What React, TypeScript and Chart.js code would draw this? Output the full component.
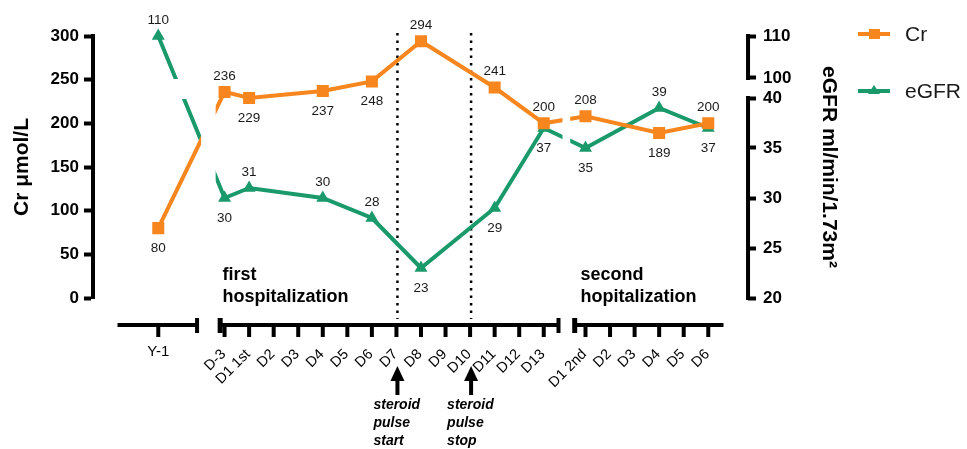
import React, { useEffect, useRef } from 'react';
import { Chart, registerables, LinearScale } from 'chart.js';

Chart.register(...registerables);

// ---------- data ----------
const yearCategories = ['Y-1'];
const firstCategories = ['D-3', 'D1 1st', 'D2', 'D3', 'D4', 'D5', 'D6', 'D7', 'D8', 'D9', 'D10', 'D11', 'D12', 'D13'];
const secondCategories = ['D1 2nd', 'D2', 'D3', 'D4', 'D5', 'D6'];

const crYear = [80];
const crFirst = [236, 229, null, null, 237, null, 248, null, 294, null, null, 241, null, 200];
const crSecond = [208, null, null, 189, null, 200];

const egfrYear = [110];
const egfrFirst = [30, 31, null, null, 30, null, 28, null, 23, null, null, 29, null, 37];
const egfrSecond = [35, null, null, 39, null, 37];

const crTicks = [0, 50, 100, 150, 200, 250, 300];
const egfrTicks = [20, 25, 30, 35, 40, 100, 110];

// label side for each plotted point, in order
const crLabelSide = ['below', 'above', 'below', 'below', 'below', 'above', 'above', 'above', 'above', 'below', 'above'];
const egfrLabelSide = ['above', 'below', 'above', 'above', 'above', 'below', 'below', 'below', 'below', 'above', 'below'];

const events = [
  { category: 'D7', lines: ['steroid', 'pulse', 'start'] },
  { category: 'D10', lines: ['steroid', 'pulse', 'stop'] },
];

// ---------- layout / style ----------
const FONT = 'Arial, "Liberation Sans", Helvetica, sans-serif';
const ORANGE = '#F7861E';
const GREEN = '#1A9A6B';
const SEGMENT_START = [-2.7, 0, 14.7];
const AXIS_SEGMENTS = [[-4.36, -1.12], [-0.2, 13.6], [14.24, 20.32]];
const LOW_SHARE = 200 / 262;
const GAP_SHARE = 20 / 262;

class BrokenLinearScale extends LinearScale {
  static id = 'brokenLinear';
  static defaults = LinearScale.defaults;
  buildTicks() {
    return egfrTicks.map((value) => ({ value }));
  }
  getPixelForValue(value: number) {
    const h = this.bottom - this.top;
    let f;
    if (value <= 40) f = ((value - 20) / 20) * LOW_SHARE;
    else if (value >= 100) f = LOW_SHARE + GAP_SHARE + ((value - 100) / 10) * (1 - LOW_SHARE - GAP_SHARE);
    else f = LOW_SHARE + ((value - 40) / 60) * GAP_SHARE;
    return this.bottom - f * h;
  }
  getValueForPixel(pixel: number) {
    const h = this.bottom - this.top;
    const f = (this.bottom - pixel) / h;
    if (f <= LOW_SHARE) return 20 + (f / LOW_SHARE) * 20;
    if (f >= LOW_SHARE + GAP_SHARE) return 100 + ((f - LOW_SHARE - GAP_SHARE) / (1 - LOW_SHARE - GAP_SHARE)) * 10;
    return 40 + ((f - LOW_SHARE) / GAP_SHARE) * 60;
  }
}
Chart.register(BrokenLinearScale as any);

const segments = [yearCategories, firstCategories, secondCategories];

function buildPoints(series: (number | null)[][]) {
  const pts: { x: number; y: number }[] = [];
  series.forEach((vals, s) =>
    vals.forEach((v, i) => {
      if (v !== null) pts.push({ x: SEGMENT_START[s] + i, y: v });
    })
  );
  return pts;
}

const breakClipPlugin = {
  id: 'breakClip',
  beforeDatasetDraw(chart: any, args: any) {
    const { ctx, width, height, scales } = chart;
    const x = scales.x;
    ctx.save();
    const bands: number[][] = [];
    for (let i = 0; i < AXIS_SEGMENTS.length - 1; i++) {
      const a = x.getPixelForValue(AXIS_SEGMENTS[i][1]) + 4;
      const b = x.getPixelForValue(AXIS_SEGMENTS[i + 1][0]) - 4;
      bands.push([a, 0, b - a, height]);
    }
    if (args.meta.yAxisID === 'y2') {
      const t = scales.y2.getPixelForValue(100);
      const b = scales.y2.getPixelForValue(40);
      bands.push([0, t + 1, width, b - t]);
    }
    for (const r of bands) {
      ctx.beginPath();
      ctx.rect(0, 0, width, height);
      ctx.rect(r[0], r[1], r[2], r[3]);
      ctx.clip('evenodd');
    }
  },
  afterDatasetDraw(chart: any) {
    chart.ctx.restore();
  },
};

const decorPlugin = {
  id: 'decor',
  beforeDatasetsDraw(chart: any) {
    const { ctx, chartArea, scales } = chart;
    const x = scales.x;
    const axisY = chartArea.bottom + 27;
    ctx.save();
    ctx.strokeStyle = '#000';
    ctx.lineWidth = 2.5;
    ctx.setLineDash([2.5, 5]);
    for (const ev of events) {
      const px = x.getPixelForValue(SEGMENT_START[1] + firstCategories.indexOf(ev.category)) + 1;
      ctx.beginPath();
      ctx.moveTo(px, chartArea.top - 3);
      ctx.lineTo(px, axisY - 6);
      ctx.stroke();
    }
    ctx.restore();
  },
  afterDatasetsDraw(chart: any) {
    const { ctx } = chart;
    ctx.save();
    ctx.font = `13.5px ${FONT}`;
    ctx.fillStyle = '#1a1a1a';
    ctx.textAlign = 'center';
    ctx.textBaseline = 'middle';
    const sides = [crLabelSide, egfrLabelSide];
    chart.data.datasets.forEach((ds: any, di: number) => {
      const meta = chart.getDatasetMeta(di);
      meta.data.forEach((el: any, i: number) => {
        const dy = sides[di][i] === 'above' ? -16 : 20;
        ctx.fillText(String(ds.data[i].y), el.x, el.y + dy);
      });
    });
    ctx.restore();
  },
  afterDraw(chart: any) {
    const { ctx, chartArea, scales } = chart;
    const x = scales.x;
    const y2 = scales.y2;
    const axisY = chartArea.bottom + 27;
    ctx.save();
    ctx.fillStyle = '#000';
    ctx.strokeStyle = '#000';

    // broken x axis
    ctx.lineWidth = 4;
    AXIS_SEGMENTS.forEach((seg, s) => {
      const a = x.getPixelForValue(seg[0]);
      const b = x.getPixelForValue(seg[1]);
      ctx.beginPath();
      ctx.moveTo(a, axisY);
      ctx.lineTo(b, axisY);
      ctx.stroke();
      if (s > 0) ctx.fillRect(a - 2, axisY - 7, 5, 15);
      if (s < AXIS_SEGMENTS.length - 1) ctx.fillRect(b - 2, axisY - 7, 4, 15);
    });
    // ticks + labels
    segments.forEach((cats, s) => {
      cats.forEach((c, i) => {
        const px = x.getPixelForValue(SEGMENT_START[s] + i);
        ctx.fillRect(px - 2, axisY, 4, 12);
        ctx.save();
        if (s === 0) {
          ctx.font = `15px ${FONT}`;
          ctx.textAlign = 'center';
          ctx.textBaseline = 'middle';
          ctx.fillText(c, px, axisY + 27);
        } else {
          ctx.font = `14.5px ${FONT}`;
          ctx.translate(px - 1, axisY + 27);
          ctx.rotate(-Math.PI / 4);
          ctx.textAlign = 'right';
          ctx.textBaseline = 'middle';
          ctx.fillText(c, 0, 0);
        }
        ctx.restore();
      });
    });

    // broken right axis line
    const xr = chartArea.right;
    ctx.beginPath();
    ctx.moveTo(xr, y2.getPixelForValue(20) + 2);
    ctx.lineTo(xr, y2.getPixelForValue(40) - 2);
    ctx.moveTo(xr, y2.getPixelForValue(100) + 2);
    ctx.lineTo(xr, y2.getPixelForValue(110) - 2);
    ctx.stroke();

    // hospitalization captions
    ctx.font = `bold 18px ${FONT}`;
    ctx.textAlign = 'left';
    ctx.textBaseline = 'middle';
    const c1 = x.getPixelForValue(SEGMENT_START[1]) - 2;
    const c2 = x.getPixelForValue(SEGMENT_START[2]) - 5;
    ctx.fillText('first', c1, chartArea.bottom - 23);
    ctx.fillText('hospitalization', c1, chartArea.bottom - 1);
    ctx.fillText('second', c2, chartArea.bottom - 23);
    ctx.fillText('hopitalization', c2, chartArea.bottom - 1);

    // arrows + steroid notes
    for (const ev of events) {
      const px = x.getPixelForValue(SEGMENT_START[1] + firstCategories.indexOf(ev.category)) + 1;
      ctx.beginPath();
      ctx.moveTo(px, axisY + 41);
      ctx.lineTo(px + 7, axisY + 56);
      ctx.lineTo(px - 7, axisY + 56);
      ctx.closePath();
      ctx.fill();
      ctx.fillRect(px - 2, axisY + 55, 4, 15);
      ctx.font = `italic bold 14px ${FONT}`;
      ctx.textAlign = 'left';
      ev.lines.forEach((ln, k) => ctx.fillText(ln, px - 24, axisY + 80 + k * 18));
    }

    // legend
    const items = [
      { label: 'Cr', color: ORANGE, shape: 'rect', y: 34 },
      { label: 'eGFR', color: GREEN, shape: 'tri', y: 91 },
    ];
    for (const it of items) {
      ctx.strokeStyle = it.color;
      ctx.fillStyle = it.color;
      ctx.lineWidth = 4;
      ctx.beginPath();
      ctx.moveTo(858, it.y);
      ctx.lineTo(890, it.y);
      ctx.stroke();
      if (it.shape === 'rect') {
        ctx.fillRect(869, it.y - 5, 11, 10);
      } else {
        ctx.beginPath();
        ctx.moveTo(874, it.y - 6);
        ctx.lineTo(880, it.y + 3);
        ctx.lineTo(868, it.y + 3);
        ctx.closePath();
        ctx.fill();
      }
      ctx.fillStyle = '#1a1a1a';
      ctx.font = `21px ${FONT}`;
      ctx.textAlign = 'left';
      ctx.textBaseline = 'middle';
      ctx.fillText(it.label, 905, it.y + 1);
    }
    ctx.restore();
  },
};

export default function App() {
  const ref = useRef<HTMLCanvasElement | null>(null);
  useEffect(() => {
    if (!ref.current) return;
    const chart = new Chart(ref.current, {
      type: 'line',
      data: {
        datasets: [
          {
            label: 'Cr',
            data: buildPoints([crYear, crFirst, crSecond]),
            yAxisID: 'y',
            borderColor: ORANGE,
            backgroundColor: ORANGE,
            borderWidth: 4,
            pointStyle: 'rect',
            pointRadius: 8.5,
            pointBorderWidth: 0,
            tension: 0,
            clip: false,
          },
          {
            label: 'eGFR',
            data: buildPoints([egfrYear, egfrFirst, egfrSecond]),
            yAxisID: 'y2',
            borderColor: GREEN,
            backgroundColor: GREEN,
            borderWidth: 4,
            pointStyle: 'triangle',
            pointRadius: 7.5,
            pointBorderWidth: 0,
            tension: 0,
            clip: false,
          },
        ],
      },
      options: {
        responsive: false,
        animation: false,
        events: [],
        devicePixelRatio: 1,
        layout: { padding: { left: 9.4, right: 125.4, top: 36, bottom: 151 } },
        plugins: { legend: { display: false }, tooltip: { enabled: false } },
        scales: {
          x: { type: 'linear', display: false, min: -5.36, max: 21.32 },
          y: {
            type: 'linear',
            position: 'left',
            min: 0,
            max: 300,
            afterBuildTicks: (s: any) => {
              s.ticks = crTicks.map((value) => ({ value }));
            },
            border: { display: true, color: '#000', width: 4 },
            grid: { drawOnChartArea: false, drawTicks: true, tickLength: 9, tickWidth: 4, tickColor: '#000' },
            ticks: { color: '#000', padding: 5, font: { family: FONT, size: 17, weight: 'bold' }, autoSkip: false },
            title: {
              display: true,
              text: 'Cr μmol/L',
              color: '#000',
              font: { family: FONT, size: 21, weight: 'bold' },
              padding: { top: 0, bottom: 11 },
            },
          },
          y2: {
            type: 'brokenLinear' as any,
            position: 'right',
            min: 20,
            max: 110,
            border: { display: false },
            grid: { drawOnChartArea: false, drawTicks: true, tickLength: 8, tickWidth: 4, tickColor: '#000' },
            ticks: { color: '#000', padding: 7, font: { family: FONT, size: 17, weight: 'bold' }, autoSkip: false },
            title: {
              display: true,
              text: 'eGFR ml/min/1.73m²',
              color: '#000',
              font: { family: FONT, size: 21, weight: 'bold' },
              padding: { top: 0, bottom: 18 },
            },
          },
        },
      } as any,
      plugins: [breakClipPlugin, decorPlugin],
    });
    return () => chart.destroy();
  }, []);
  return (
    <div style={{ position: 'fixed', left: 0, top: 0, width: 967, height: 449, background: '#fff' }}>
      <canvas ref={ref} width={967} height={449} style={{ display: 'block' }} />
    </div>
  );
}
